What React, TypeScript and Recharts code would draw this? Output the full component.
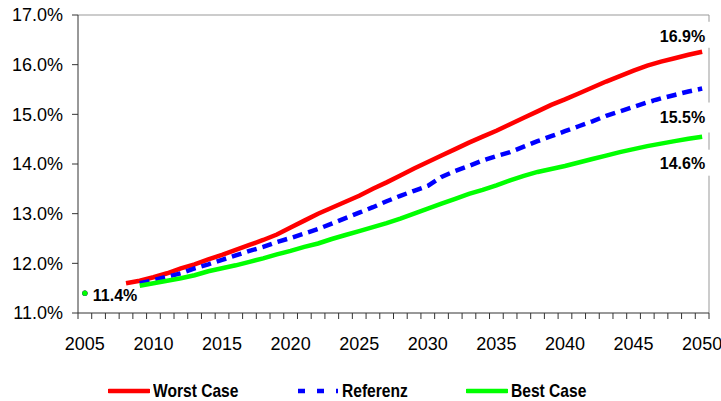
import React from 'react';
import { LineChart, Line, XAxis, YAxis, ReferenceLine, LabelList } from 'recharts';

const years = [
  2005, 2006, 2007, 2008, 2009, 2010, 2011, 2012, 2013, 2014,
  2015, 2016, 2017, 2018, 2019, 2020, 2021, 2022, 2023, 2024,
  2025, 2026, 2027, 2028, 2029, 2030, 2031, 2032, 2033, 2034,
  2035, 2036, 2037, 2038, 2039, 2040, 2041, 2042, 2043, 2044,
  2045, 2046, 2047, 2048, 2049, 2050,
];

const worstCase = [
  11.4, null, null, 11.6, 11.65, 11.72, 11.8, 11.9, 11.98, 12.08,
  12.17, 12.27, 12.37, 12.47, 12.58, 12.72, 12.86, 13.0, 13.12, 13.24,
  13.36, 13.5, 13.63, 13.77, 13.91, 14.04, 14.17, 14.3, 14.43, 14.55,
  14.67, 14.8, 14.93, 15.06, 15.19, 15.3, 15.42, 15.54, 15.66, 15.77,
  15.88, 15.98, 16.06, 16.13, 16.2, 16.26,
];

const referenz = [
  11.4, null, null, null, 11.6, 11.66, 11.73, 11.8, 11.9, 11.98,
  12.07, 12.16, 12.25, 12.33, 12.43, 12.51, 12.6, 12.69, 12.8, 12.91,
  13.02, 13.13, 13.25, 13.36, 13.46, 13.56, 13.74, 13.86, 13.96, 14.07,
  14.16, 14.24, 14.35, 14.46, 14.56, 14.66, 14.76, 14.86, 14.97, 15.06,
  15.15, 15.24, 15.32, 15.39, 15.46, 15.52,
];

const bestCase = [
  11.4, null, null, null, 11.55, 11.6, 11.65, 11.7, 11.76, 11.84,
  11.9, 11.96, 12.03, 12.1, 12.18, 12.25, 12.33, 12.4, 12.49, 12.57,
  12.65, 12.73, 12.81, 12.9, 13.0, 13.1, 13.2, 13.3, 13.4, 13.48,
  13.57, 13.67, 13.76, 13.84, 13.9, 13.96, 14.03, 14.1, 14.17, 14.24,
  14.3, 14.36, 14.41, 14.46, 14.51, 14.55,
];

const yTicks = [11, 12, 13, 14, 15, 16, 17];
const xTickLabels = [2005, 2010, 2015, 2020, 2025, 2030, 2035, 2040, 2045, 2050];
const seriesNames = ['Worst Case', 'Referenz', 'Best Case'];
const endLabelTexts = ['16.9%', '15.5%', '14.6%'];
const startLabelText = '11.4%';

const RED = '#FF0000';
const BLUE = '#0000FF';
const GREEN = '#00FF00';

const data = years.map((year, i) => ({
  year,
  worst: worstCase[i],
  ref: referenz[i],
  best: bestCase[i],
}));

const xBoundaries = [...years.map((y) => y - 0.5), years[years.length - 1] + 0.5];

const W = 721;
const H = 401;
const MARGIN = { top: 15, right: 12, bottom: 58, left: 0 };
const Y_AXIS_W = 78;
const HALF_STEP = (W - MARGIN.right - Y_AXIS_W) / years.length / 2;
const FONT = "'Liberation Sans', Arial, sans-serif";

const XTick = (props: any) => {
  const { x, y, payload } = props;
  const yr = Math.round(payload.value + 0.5);
  if (!xTickLabels.includes(yr) || payload.value + 0.5 > years[years.length - 1]) return <g />;
  return (
    <text x={x + HALF_STEP} y={y + 29} textAnchor="middle" fontSize={18} fill="#000" fontFamily={FONT}>
      {yr}
    </text>
  );
};

const startDot = (color: string) => (props: any) => {
  const { cx, cy, index } = props;
  if (index !== 0 || cx == null || cy == null) return <g key={`d-${color}-${index}`} />;
  return <circle key={`d-${color}-${index}`} cx={cx} cy={cy} r={2.6} fill={color} />;
};

const endLabel = (text: string, dy: number, boxTop: number, boxH: number) => (props: any) => {
  const { x, y, index } = props;
  if (index !== years.length - 1 || x == null || y == null) return <g />;
  return (
    <g>
      <rect x={x - 48} y={y + boxTop} width={62} height={boxH} fill="#fff" />
      <text x={x + 3} y={y + dy} textAnchor="end" fontWeight="bold" fontSize={16} fill="#000" fontFamily={FONT}>
        {text}
      </text>
    </g>
  );
};

const startLabel = (props: any) => {
  const { x, y, index } = props;
  if (index !== 0 || x == null || y == null) return <g />;
  return (
    <text x={x + 8} y={y + 8} textAnchor="start" fontWeight="bold" fontSize={16} fill="#000" fontFamily={FONT}>
      {startLabelText}
    </text>
  );
};

const legendItems = [
  { name: seriesNames[0], color: RED, dash: undefined, left: 108 },
  { name: seriesNames[1], color: BLUE, dash: '7 12', left: 297 },
  { name: seriesNames[2], color: GREEN, dash: undefined, left: 466 },
];

export default function App() {
  return (
    <div style={{ position: 'absolute', left: 0, top: 0, width: W, height: H, background: '#fff', fontFamily: FONT }}>
      <LineChart width={W} height={H} data={data} margin={MARGIN}>
        <ReferenceLine y={17} stroke="#999" strokeWidth={1} />
        <ReferenceLine x={years[years.length - 1] + 0.5} stroke="#999" strokeWidth={1} />
        <XAxis
          dataKey="year"
          type="number"
          domain={[xBoundaries[0], xBoundaries[xBoundaries.length - 1]]}
          ticks={xBoundaries}
          interval={0}
          height={30}
          stroke="#333"
          tickSize={6}
          tick={<XTick />}
          allowDataOverflow
        />
        <YAxis
          domain={[11, 17]}
          ticks={yTicks}
          width={Y_AXIS_W}
          stroke="#333"
          tickSize={6}
          tickMargin={9}
          interval={0}
          tick={{ fill: '#000', fontSize: 18, fontFamily: FONT }}
          tickFormatter={(v: number) => `${v.toFixed(1)}%`}
          allowDataOverflow
        />
        <Line
          dataKey="worst"
          name={seriesNames[0]}
          stroke={RED}
          strokeWidth={4.5}
          dot={startDot(RED)}
          activeDot={false}
          isAnimationActive={false}
        >
          <LabelList dataKey="worst" content={endLabel(endLabelTexts[0], -10, -30, 26)} />
        </Line>
        <Line
          dataKey="ref"
          name={seriesNames[1]}
          stroke={BLUE}
          strokeWidth={4.5}
          strokeDasharray="10 6"
          dot={startDot(BLUE)}
          activeDot={false}
          isAnimationActive={false}
        >
          <LabelList dataKey="ref" content={endLabel(endLabelTexts[1], 34, 14, 30)} />
        </Line>
        <Line
          dataKey="best"
          name={seriesNames[2]}
          stroke={GREEN}
          strokeWidth={4.5}
          dot={startDot(GREEN)}
          activeDot={false}
          isAnimationActive={false}
        >
          <LabelList dataKey="best" content={endLabel(endLabelTexts[2], 32, 13, 26)} />
          <LabelList dataKey="best" content={startLabel} />
        </Line>
      </LineChart>
      {legendItems.map((it) => (
        <div
          key={it.name}
          style={{ position: 'absolute', left: it.left, top: 380, height: 22, display: 'flex', alignItems: 'center', whiteSpace: 'nowrap' }}
        >
          <svg width={42} height={22} style={{ display: 'block' }}>
            <line x1={1} y1={11} x2={41} y2={11} stroke={it.color} strokeWidth={4.5} strokeDasharray={it.dash} strokeLinecap={it.dash ? 'butt' : 'round'} />
          </svg>
          <span
            style={{
              display: 'inline-block',
              marginLeft: 3,
              fontSize: 19,
              fontWeight: 'bold',
              color: '#000',
              transform: 'scaleX(0.82)',
              transformOrigin: 'left center',
              lineHeight: '22px',
            }}
          >
            {it.name}
          </span>
        </div>
      ))}
    </div>
  );
}
